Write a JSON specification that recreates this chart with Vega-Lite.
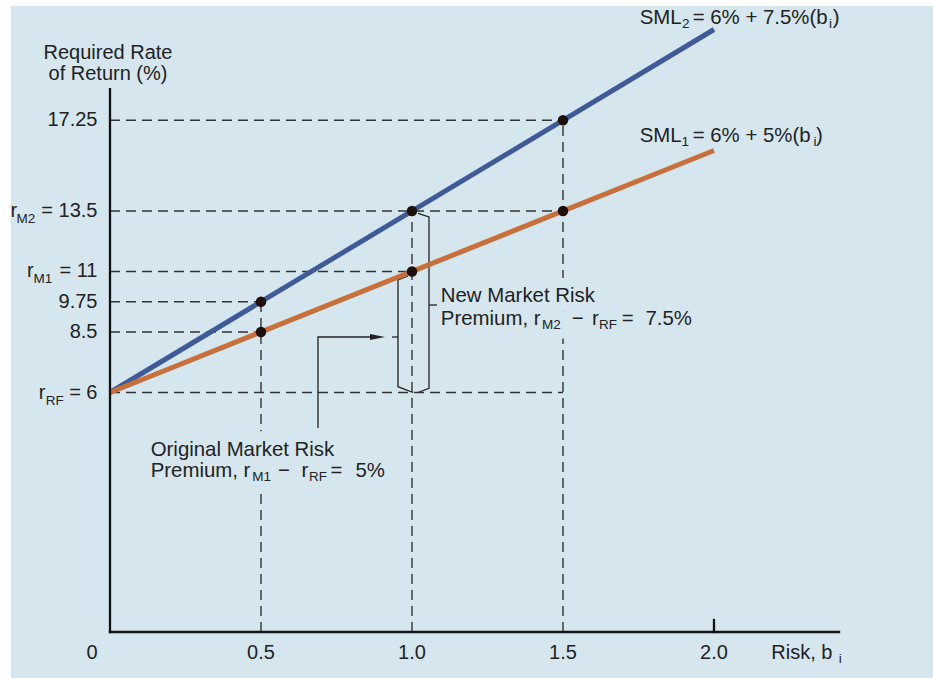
{
  "$schema": "https://vega.github.io/schema/vega-lite/v6.json",
  "width": 922,
  "height": 672,
  "autosize": {"type": "none"},
  "padding": {"left": 11, "top": 6, "right": 0, "bottom": 0},
  "background": "white",
  "config": {"view": {"stroke": null, "fill": "#d6e6ef"}},
  "datasets": {
    "sml": [
      {"series": "SML2", "b": 0, "r": 6}, {"series": "SML2", "b": 2, "r": 21},
      {"series": "SML1", "b": 0, "r": 6}, {"series": "SML1", "b": 2, "r": 16}
    ],
    "guides": [
      {"b": 0, "r": 17.25, "b2": 1.5, "r2": 17.25},
      {"b": 0, "r": 13.5, "b2": 1.5, "r2": 13.5},
      {"b": 0, "r": 11, "b2": 1, "r2": 11},
      {"b": 0, "r": 9.75, "b2": 0.5, "r2": 9.75},
      {"b": 0, "r": 8.5, "b2": 0.5, "r2": 8.5},
      {"b": 0, "r": 6, "b2": 1.5, "r2": 6},
      {"b": 0.5, "r": 0, "b2": 0.5, "r2": 9.75},
      {"b": 1, "r": 0, "b2": 1, "r2": 13.5},
      {"b": 1.5, "r": 0, "b2": 1.5, "r2": 17.25}
    ],
    "axes": [
      {"b": 0, "r": 0, "b2": 0, "r2": 18.54},
      {"b": 0, "r": 0, "b2": 2.414, "r2": 0},
      {"b": 2, "r": 0, "b2": 2, "r2": 0.3}
    ],
    "points": [
      {"b": 0.5, "r": 9.75}, {"b": 0.5, "r": 8.5},
      {"b": 1, "r": 13.5}, {"b": 1, "r": 11},
      {"b": 1.5, "r": 17.25}, {"b": 1.5, "r": 13.5}
    ],
    "paths": [
      {"id": "orig", "seq": 1, "b": 0.9868, "r": 10.814},
      {"id": "orig", "seq": 2, "b": 0.9536, "r": 10.649},
      {"id": "orig", "seq": 3, "b": 0.9536, "r": 6.24},
      {"id": "orig", "seq": 4, "b": 1.0033, "r": 6.0},
      {"id": "origTick", "seq": 1, "b": 0.9338, "r": 8.293},
      {"id": "origTick", "seq": 2, "b": 0.9536, "r": 8.293},
      {"id": "new", "seq": 1, "b": 1.0199, "r": 13.397},
      {"id": "new", "seq": 2, "b": 1.0563, "r": 13.252},
      {"id": "new", "seq": 3, "b": 1.0563, "r": 6.174},
      {"id": "new", "seq": 4, "b": 1.0199, "r": 6.0},
      {"id": "newTick", "seq": 1, "b": 1.0563, "r": 9.616},
      {"id": "newTick", "seq": 2, "b": 1.0828, "r": 9.616},
      {"id": "arrow", "seq": 1, "b": 0.6887, "r": 5.111},
      {"id": "arrow", "seq": 2, "b": 0.6887, "r": 8.293},
      {"id": "arrow", "seq": 3, "b": 0.8907, "r": 8.293}
    ],
    "arrowhead": [{"b": 0.8858, "r": 8.293}],
    "labels": [
      {"kind": "title", "b": -0.0066, "r": 19.769, "text": "Required Rate"},
      {"kind": "title", "b": -0.0066, "r": 18.913, "text": "of Return (%)"},
      {"kind": "ylab", "b": 0, "r": 17.25, "text": "17.25"},
      {"kind": "ylab", "b": 0, "r": 13.5, "text": "= 13.5"},
      {"kind": "ylab", "b": 0, "r": 11, "text": "= 11"},
      {"kind": "ylab", "b": 0, "r": 9.75, "text": "9.75"},
      {"kind": "ylab", "b": 0, "r": 8.5, "text": "8.5"},
      {"kind": "ylab", "b": 0, "r": 6, "text": "= 6"},
      {"kind": "yr", "b": -0.3295, "r": 13.5, "text": "r"},
      {"kind": "yr", "b": -0.2748, "r": 11, "text": "r"},
      {"kind": "yr", "b": -0.2358, "r": 6, "text": "r"},
      {"kind": "ysub", "b": -0.3096, "r": 13.5, "text": "M2"},
      {"kind": "ysub", "b": -0.2533, "r": 11, "text": "M1"},
      {"kind": "ysub", "b": -0.2129, "r": 6, "text": "RF"},
      {"kind": "xlab", "b": 0.5, "r": 0, "text": "0.5"},
      {"kind": "xlab", "b": 1, "r": 0, "text": "1.0"},
      {"kind": "xlab", "b": 1.5, "r": 0, "text": "1.5"},
      {"kind": "xlab", "b": 2, "r": 0, "text": "2.0"},
      {"kind": "origin", "b": 0, "r": 0, "text": "0"},
      {"kind": "xname", "b": 2.1897, "r": 0, "text": "Risk, b"},
      {"kind": "xnamesub", "b": 2.4129, "r": 0, "text": "i"},
      {"kind": "ann", "b": 1.0954, "r": 9.752, "text": "New Market Risk"},
      {"kind": "ann", "b": 1.0954, "r": 8.789, "text": "Premium, r"},
      {"kind": "annsub", "b": 1.4305, "r": 8.789, "text": "M2"},
      {"kind": "ann", "b": 1.5288, "r": 8.789, "text": "−"},
      {"kind": "ann", "b": 1.596, "r": 8.789, "text": "r"},
      {"kind": "annsub", "b": 1.6192, "r": 8.789, "text": "RF"},
      {"kind": "ann", "b": 1.6944, "r": 8.789, "text": "="},
      {"kind": "ann", "b": 1.7732, "r": 8.789, "text": "7.5%"},
      {"kind": "ann", "b": 0.1348, "r": 4.409, "text": "Original Market Risk"},
      {"kind": "ann", "b": 0.1348, "r": 3.876, "text": "Premium, r"},
      {"kind": "annsub", "b": 0.4712, "r": 3.876, "text": "M1"},
      {"kind": "ann", "b": 0.5563, "r": 3.876, "text": "−"},
      {"kind": "ann", "b": 0.6338, "r": 3.876, "text": "r"},
      {"kind": "annsub", "b": 0.6589, "r": 3.876, "text": "RF"},
      {"kind": "ann", "b": 0.7298, "r": 3.876, "text": "="},
      {"kind": "ann", "b": 0.8129, "r": 3.876, "text": "5%"},
      {"kind": "ann", "b": 1.754, "r": 21.227, "text": "SML"},
      {"kind": "annsub", "b": 1.894, "r": 21.227, "text": "2"},
      {"kind": "ann", "b": 1.9295, "r": 21.227, "text": "= 6% + 7.5%(b"},
      {"kind": "annsub", "b": 2.3808, "r": 21.227, "text": "i"},
      {"kind": "ann", "b": 2.393, "r": 21.227, "text": ")"},
      {"kind": "ann", "b": 1.754, "r": 16.339, "text": "SML"},
      {"kind": "annsub", "b": 1.8927, "r": 16.339, "text": "1"},
      {"kind": "ann", "b": 1.9295, "r": 16.339, "text": "= 6% + 5%(b"},
      {"kind": "annsub", "b": 2.3291, "r": 16.339, "text": "i"},
      {"kind": "ann", "b": 2.3381, "r": 16.339, "text": ")"}
    ]
  },
  "encoding": {
    "x": {"field": "b", "type": "quantitative", "scale": {"domain": [-0.3278, 2.7252], "nice": false, "zero": false}, "axis": null},
    "y": {"field": "r", "type": "quantitative", "scale": {"domain": [0, 6, 21.971], "range": [626, 386.5, 0], "nice": false, "zero": false}, "axis": null}
  },
  "layer": [
    {
      "data": {"name": "guides"},
      "mark": {"type": "rule", "stroke": "#333333", "strokeWidth": 1.4, "strokeDash": [10, 6]},
      "encoding": {"x2": {"field": "b2"}, "y2": {"field": "r2"}}
    },
    {
      "data": {"name": "labels"},
      "transform": [{"filter": "datum.kind === 'ann' && datum.r < 15"}],
      "mark": {"type": "text", "font": "Liberation Sans", "fontSize": 20.4, "fill": "#d6e6ef", "stroke": "#d6e6ef", "strokeWidth": 20, "strokeJoin": "round", "align": "left", "baseline": "alphabetic"},
      "encoding": {"text": {"field": "text"}}
    },
    {
      "data": {"name": "labels"},
      "transform": [{"filter": "datum.kind === 'annsub' && datum.r < 15"}],
      "mark": {"type": "text", "font": "Liberation Sans", "fontSize": 13.5, "fill": "#d6e6ef", "stroke": "#d6e6ef", "strokeWidth": 20, "strokeJoin": "round", "align": "left", "baseline": "alphabetic", "dy": 4},
      "encoding": {"text": {"field": "text"}}
    },
    {
      "data": {"name": "paths"},
      "mark": {"type": "line", "stroke": "#222222", "strokeWidth": 1.3, "strokeJoin": "miter"},
      "encoding": {"detail": {"field": "id"}, "order": {"field": "seq", "type": "quantitative"}}
    },
    {
      "data": {"name": "arrowhead"},
      "mark": {"type": "point", "shape": "M1,0L-1,-0.4L-1,0.4Z", "size": 225, "filled": true, "fill": "#222222", "opacity": 1, "strokeWidth": 0}
    },
    {
      "data": {"name": "sml"},
      "transform": [{"filter": "datum.series === 'SML2'"}],
      "mark": {"type": "line", "stroke": "#3f5b97", "strokeWidth": 5, "strokeCap": "butt"}
    },
    {
      "data": {"name": "sml"},
      "transform": [{"filter": "datum.series === 'SML1'"}],
      "mark": {"type": "line", "stroke": "#c8703c", "strokeWidth": 5, "strokeCap": "butt"}
    },
    {
      "data": {"name": "axes"},
      "mark": {"type": "rule", "stroke": "#111111", "strokeWidth": 2.3, "strokeCap": "square"},
      "encoding": {"x2": {"field": "b2"}, "y2": {"field": "r2"}}
    },
    {
      "data": {"name": "points"},
      "mark": {"type": "point", "shape": "circle", "size": 110, "filled": true, "fill": "#1e0f0c", "opacity": 1, "strokeWidth": 0}
    },
    {
      "data": {"name": "labels"},
      "transform": [{"filter": "datum.kind === 'title'"}],
      "mark": {"type": "text", "font": "Liberation Sans", "fontSize": 20, "fill": "#222222", "align": "center", "baseline": "alphabetic"},
      "encoding": {"text": {"field": "text"}}
    },
    {
      "data": {"name": "labels"},
      "transform": [{"filter": "datum.kind === 'ylab'"}],
      "mark": {"type": "text", "font": "Liberation Sans", "fontSize": 20, "fill": "#222222", "align": "right", "baseline": "middle", "dx": -12.5},
      "encoding": {"text": {"field": "text"}}
    },
    {
      "data": {"name": "labels"},
      "transform": [{"filter": "datum.kind === 'yr'"}],
      "mark": {"type": "text", "font": "Liberation Sans", "fontSize": 20, "fill": "#222222", "align": "left", "baseline": "middle"},
      "encoding": {"text": {"field": "text"}}
    },
    {
      "data": {"name": "labels"},
      "transform": [{"filter": "datum.kind === 'ysub'"}],
      "mark": {"type": "text", "font": "Liberation Sans", "fontSize": 13.5, "fill": "#222222", "align": "left", "baseline": "middle", "dy": 8},
      "encoding": {"text": {"field": "text"}}
    },
    {
      "data": {"name": "labels"},
      "transform": [{"filter": "datum.kind === 'xlab'"}],
      "mark": {"type": "text", "font": "Liberation Sans", "fontSize": 20, "fill": "#222222", "align": "center", "baseline": "alphabetic", "dy": 27.3},
      "encoding": {"text": {"field": "text"}}
    },
    {
      "data": {"name": "labels"},
      "transform": [{"filter": "datum.kind === 'origin'"}],
      "mark": {"type": "text", "font": "Liberation Sans", "fontSize": 20, "fill": "#222222", "align": "center", "baseline": "alphabetic", "dy": 27.3, "dx": -18},
      "encoding": {"text": {"field": "text"}}
    },
    {
      "data": {"name": "labels"},
      "transform": [{"filter": "datum.kind === 'xname'"}],
      "mark": {"type": "text", "font": "Liberation Sans", "fontSize": 20, "fill": "#222222", "align": "left", "baseline": "alphabetic", "dy": 27.3},
      "encoding": {"text": {"field": "text"}}
    },
    {
      "data": {"name": "labels"},
      "transform": [{"filter": "datum.kind === 'xnamesub'"}],
      "mark": {"type": "text", "font": "Liberation Sans", "fontSize": 13.5, "fill": "#222222", "align": "left", "baseline": "alphabetic", "dy": 30.7},
      "encoding": {"text": {"field": "text"}}
    },
    {
      "data": {"name": "labels"},
      "transform": [{"filter": "datum.kind === 'ann'"}],
      "mark": {"type": "text", "font": "Liberation Sans", "fontSize": 20.4, "fill": "#222222", "align": "left", "baseline": "alphabetic"},
      "encoding": {"text": {"field": "text"}}
    },
    {
      "data": {"name": "labels"},
      "transform": [{"filter": "datum.kind === 'annsub'"}],
      "mark": {"type": "text", "font": "Liberation Sans", "fontSize": 13.5, "fill": "#222222", "align": "left", "baseline": "alphabetic", "dy": 4},
      "encoding": {"text": {"field": "text"}}
    }
  ]
}
